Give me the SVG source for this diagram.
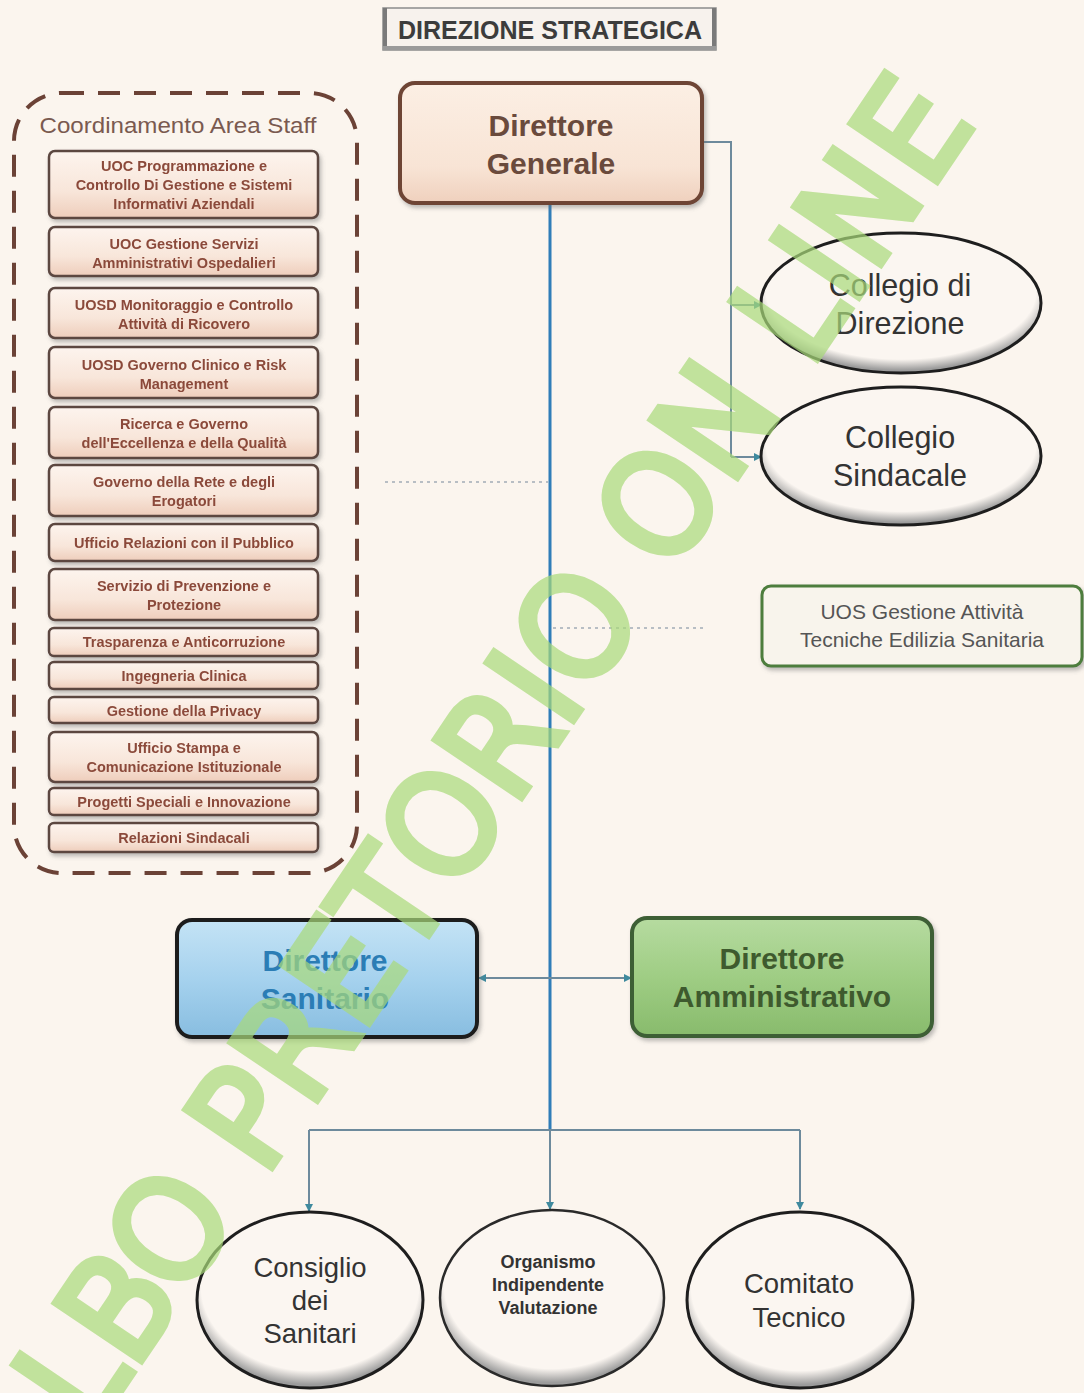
<svg xmlns="http://www.w3.org/2000/svg" width="1084" height="1393" viewBox="0 0 1084 1393">
<defs>
<style>
.t{font-family:"Liberation Sans",Arial,sans-serif;text-anchor:middle}
.b{font-weight:bold}
.st{font-family:"Liberation Sans",Arial,sans-serif;text-anchor:middle;font-weight:bold;font-size:14.5px;fill:#8b4a3a}
.sb{fill:url(#gStaff);stroke:#5b4640;stroke-width:2.5}
.ell{stroke:#1e1e1e;stroke-width:3}
.cn{fill:none;stroke:#6d8a9c;stroke-width:2}
.dot{fill:none;stroke:#a3acb6;stroke-width:1.5;stroke-dasharray:3 4}
</style>
<linearGradient id="gStaff" x1="0" y1="0" x2="0" y2="1">
<stop offset="0" stop-color="#fdf4ee"/><stop offset="0.6" stop-color="#f8e6da"/><stop offset="1" stop-color="#eecdbb"/>
</linearGradient>
<linearGradient id="gDG" x1="0" y1="0" x2="0" y2="1">
<stop offset="0" stop-color="#fcefe4"/><stop offset="0.7" stop-color="#f8e4d5"/><stop offset="1" stop-color="#efd0bd"/>
</linearGradient>
<linearGradient id="gDS" x1="0" y1="0" x2="0" y2="1">
<stop offset="0" stop-color="#c4e3f5"/><stop offset="0.5" stop-color="#a6d2ee"/><stop offset="1" stop-color="#88bde0"/>
</linearGradient>
<linearGradient id="gDA" x1="0" y1="0" x2="0" y2="1">
<stop offset="0" stop-color="#b6dba0"/><stop offset="0.5" stop-color="#9fcd84"/><stop offset="1" stop-color="#88bb6c"/>
</linearGradient>
<radialGradient id="gEl" cx="0.5" cy="0.42" r="0.56">
<stop offset="0.86" stop-color="#fbf6f1"/><stop offset="1" stop-color="#9c9c9c"/>
</radialGradient>
<filter id="sh" x="-10%" y="-10%" width="130%" height="140%">
<feDropShadow dx="2" dy="3" stdDeviation="2" flood-color="#6f6f6f" flood-opacity="0.45"/>
</filter>
<marker id="ar" viewBox="0 0 8 8" refX="7" refY="4" markerWidth="8" markerHeight="8" markerUnits="userSpaceOnUse" orient="auto">
<path d="M0,0 L8,4 L0,8 z" fill="#3f8a9e"/>
</marker>
</defs>
<rect width="1084" height="1393" fill="#fbf5ee"/>

<g id="title">
<rect x="383" y="8" width="333" height="42" fill="#f7f2ed" stroke="#8c8c8c" stroke-width="1.5"/>
<rect x="383" y="8" width="4" height="42" fill="#7a7a7a"/>
<rect x="712" y="8" width="4" height="42" fill="#7a7a7a"/>
<rect x="383" y="46" width="333" height="4" fill="#9a9a9a"/>
<text class="t b" x="550" y="39" font-size="25" fill="#3c3c3c" textLength="304" lengthAdjust="spacingAndGlyphs">DIREZIONE STRATEGICA</text>
</g>

<g id="connectors">
<path class="cn" d="M702,142 H731 V457"/>
<path class="cn" d="M731,305 H761" marker-end="url(#ar)"/>
<path class="cn" d="M731,457 H761" marker-end="url(#ar)"/>
<path d="M550,203 V1130" fill="none" stroke="#2f7db8" stroke-width="3"/>
<path class="cn" d="M550,978 H479" marker-end="url(#ar)"/>
<path class="cn" d="M550,978 H631" marker-end="url(#ar)"/>
<path class="cn" d="M309,1130 H800"/>
<path class="cn" d="M309,1130 V1211" marker-end="url(#ar)"/>
<path class="cn" d="M800,1130 V1209" marker-end="url(#ar)"/>
<path class="cn" d="M550,1130 V1209" marker-end="url(#ar)"/>
<path class="dot" d="M385,482 H548"/>
<path class="dot" d="M553,628 H706"/>
</g>

<g id="staff-area">
<rect x="14" y="93" width="343" height="780" rx="48" fill="none" stroke="#6b4236" stroke-width="4" stroke-dasharray="22 14"/>
<text class="t" x="178" y="133" font-size="22" fill="#7a5a50" textLength="277" lengthAdjust="spacingAndGlyphs">Coordinamento Area Staff</text>
</g>

<g id="staff-1" filter="url(#sh)"><rect class="sb" x="49" y="151" width="269" height="67" rx="6"/>
<text class="st" x="184" y="171">UOC Programmazione e</text><text class="st" x="184" y="190">Controllo Di Gestione e Sistemi</text><text class="st" x="184" y="209">Informativi Aziendali</text></g>
<g id="staff-2" filter="url(#sh)"><rect class="sb" x="49" y="227" width="269" height="49" rx="6"/>
<text class="st" x="184" y="249">UOC Gestione Servizi</text><text class="st" x="184" y="268">Amministrativi Ospedalieri</text></g>
<g id="staff-3" filter="url(#sh)"><rect class="sb" x="49" y="288" width="269" height="50" rx="6"/>
<text class="st" x="184" y="310">UOSD Monitoraggio e Controllo</text><text class="st" x="184" y="329">Attività di Ricovero</text></g>
<g id="staff-4" filter="url(#sh)"><rect class="sb" x="49" y="347" width="269" height="51" rx="6"/>
<text class="st" x="184" y="370">UOSD Governo Clinico e Risk</text><text class="st" x="184" y="389">Management</text></g>
<g id="staff-5" filter="url(#sh)"><rect class="sb" x="49" y="407" width="269" height="51" rx="6"/>
<text class="st" x="184" y="429">Ricerca e Governo</text><text class="st" x="184" y="448">dell'Eccellenza e della Qualità</text></g>
<g id="staff-6" filter="url(#sh)"><rect class="sb" x="49" y="465" width="269" height="51" rx="6"/>
<text class="st" x="184" y="487">Governo della Rete e degli</text><text class="st" x="184" y="506">Erogatori</text></g>
<g id="staff-7" filter="url(#sh)"><rect class="sb" x="49" y="524" width="269" height="37" rx="6"/>
<text class="st" x="184" y="548">Ufficio Relazioni con il Pubblico</text></g>
<g id="staff-8" filter="url(#sh)"><rect class="sb" x="49" y="569" width="269" height="51" rx="6"/>
<text class="st" x="184" y="591">Servizio di Prevenzione e</text><text class="st" x="184" y="610">Protezione</text></g>
<g id="staff-9" filter="url(#sh)"><rect class="sb" x="49" y="628" width="269" height="28" rx="5"/>
<text class="st" x="184" y="647">Trasparenza e Anticorruzione</text></g>
<g id="staff-10" filter="url(#sh)"><rect class="sb" x="49" y="662" width="269" height="27" rx="5"/>
<text class="st" x="184" y="681">Ingegneria Clinica</text></g>
<g id="staff-11" filter="url(#sh)"><rect class="sb" x="49" y="697" width="269" height="26" rx="5"/>
<text class="st" x="184" y="716">Gestione della Privacy</text></g>
<g id="staff-12" filter="url(#sh)"><rect class="sb" x="49" y="732" width="269" height="50" rx="6"/>
<text class="st" x="184" y="753">Ufficio Stampa e</text><text class="st" x="184" y="772">Comunicazione Istituzionale</text></g>
<g id="staff-13" filter="url(#sh)"><rect class="sb" x="49" y="788" width="269" height="27" rx="5"/>
<text class="st" x="184" y="807">Progetti Speciali e Innovazione</text></g>
<g id="staff-14" filter="url(#sh)"><rect class="sb" x="49" y="823" width="269" height="29" rx="5"/>
<text class="st" x="184" y="843">Relazioni Sindacali</text></g>

<g id="direttore-generale">
<rect x="400" y="83" width="302" height="120" rx="15" fill="url(#gDG)" stroke="#6e4434" stroke-width="4" filter="url(#sh)"/>
<text class="t b" x="551" y="136" font-size="30" fill="#6a4a3c">Direttore</text>
<text class="t b" x="551" y="174" font-size="30" fill="#6a4a3c">Generale</text>
</g>

<g id="collegio-direzione">
<ellipse class="ell" cx="901" cy="303" rx="140" ry="70" fill="url(#gEl)"/>
<text class="t" x="900" y="296" font-size="30.5" fill="#333">Collegio di</text>
<text class="t" x="900" y="334" font-size="30.5" fill="#333">Direzione</text>
</g>

<g id="collegio-sindacale">
<ellipse class="ell" cx="901" cy="456" rx="140" ry="69" fill="url(#gEl)"/>
<text class="t" x="900" y="448" font-size="30.5" fill="#333">Collegio</text>
<text class="t" x="900" y="486" font-size="30.5" fill="#333">Sindacale</text>
</g>

<g id="uos-edilizia">
<rect x="762" y="586" width="320" height="80" rx="9" fill="#f8f4ec" stroke="#4d7d3d" stroke-width="3" filter="url(#sh)"/>
<text class="t" x="922" y="619" font-size="21" fill="#555">UOS Gestione Attività</text>
<text class="t" x="922" y="647" font-size="21" fill="#555">Tecniche Edilizia Sanitaria</text>
</g>

<g id="direttore-sanitario">
<rect x="177" y="920" width="300" height="117" rx="15" fill="url(#gDS)" stroke="#1e1e1e" stroke-width="4" filter="url(#sh)"/>
<text class="t b" x="325" y="971" font-size="30" fill="#2b7db5">Direttore</text>
<text class="t b" x="325" y="1009" font-size="30" fill="#2b7db5">Sanitario</text>
</g>

<g id="direttore-amministrativo">
<rect x="632" y="918" width="300" height="118" rx="15" fill="url(#gDA)" stroke="#3e5e34" stroke-width="4" filter="url(#sh)"/>
<text class="t b" x="782" y="969" font-size="30" fill="#3e5a2e">Direttore</text>
<text class="t b" x="782" y="1007" font-size="30" fill="#3e5a2e">Amministrativo</text>
</g>

<g id="consiglio-sanitari">
<ellipse class="ell" cx="310" cy="1300" rx="113" ry="88" fill="url(#gEl)"/>
<text class="t" x="310" y="1277" font-size="27.5" fill="#333">Consiglio</text>
<text class="t" x="310" y="1310" font-size="27.5" fill="#333">dei</text>
<text class="t" x="310" y="1343" font-size="27.5" fill="#333">Sanitari</text>
</g>

<g id="oiv">
<ellipse cx="552" cy="1298" rx="112" ry="88" fill="url(#gEl)" stroke="#2a2a2a" stroke-width="2.5"/>
<text class="t b" x="548" y="1268" font-size="18" fill="#333">Organismo</text>
<text class="t b" x="548" y="1291" font-size="18" fill="#333">Indipendente</text>
<text class="t b" x="548" y="1314" font-size="18" fill="#333">Valutazione</text>
</g>

<g id="comitato-tecnico">
<ellipse class="ell" cx="800" cy="1300" rx="113" ry="88" fill="url(#gEl)"/>
<text class="t" x="799" y="1293" font-size="27.5" fill="#333">Comitato</text>
<text class="t" x="799" y="1327" font-size="27.5" fill="#333">Tecnico</text>
</g>

<g id="watermark" opacity="0.7">
<text x="-1022" y="48" transform="translate(570,634) rotate(-56)" font-family="'DejaVu Sans',Verdana,sans-serif" font-weight="200" font-size="134" fill="#a9da7a" stroke="#a9da7a" stroke-width="13" stroke-linejoin="miter">ALBO PRETORIO ON LINE</text>
</g>
</svg>
